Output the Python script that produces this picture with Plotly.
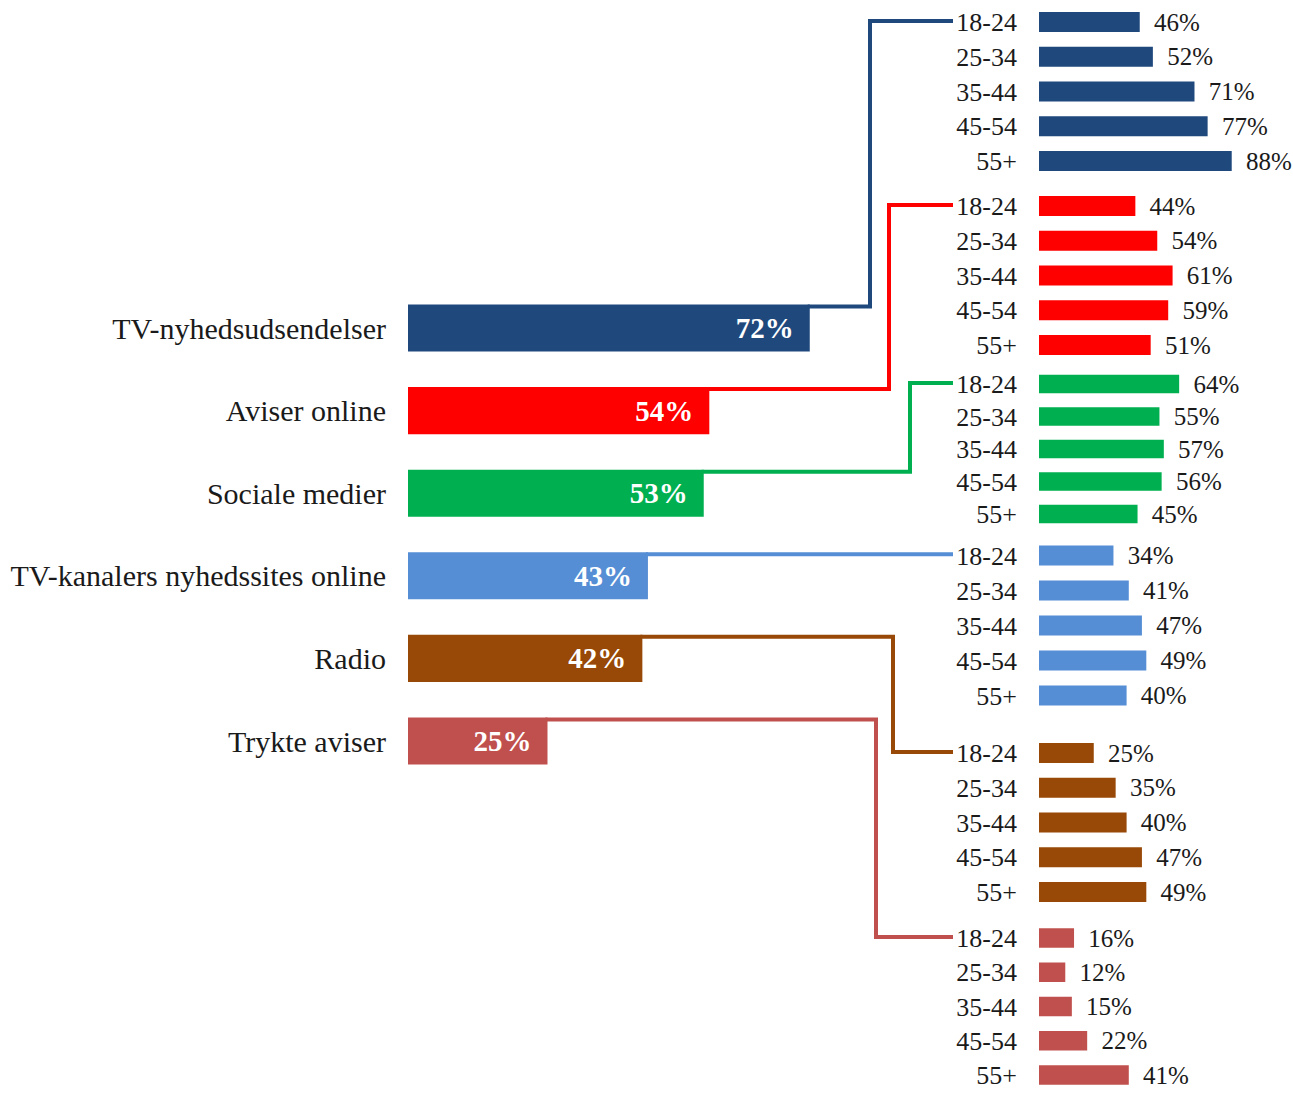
import plotly.graph_objects as go

# ---- data -------------------------------------------------------------
MEDIA = [
    "TV-nyhedsudsendelser",
    "Aviser online",
    "Sociale medier",
    "TV-kanalers nyhedssites online",
    "Radio",
    "Trykte aviser",
]
TOTAL = [72, 54, 53, 43, 42, 25]

AGE_GROUPS = ["18-24", "25-34", "35-44", "45-54", "55+"]
TV_BY_AGE = [46, 52, 71, 77, 88]
AVISER_ONLINE_BY_AGE = [44, 54, 61, 59, 51]
SOCIALE_MEDIER_BY_AGE = [64, 55, 57, 56, 45]
TV_SITES_BY_AGE = [34, 41, 47, 49, 40]
RADIO_BY_AGE = [25, 35, 40, 47, 49]
TRYKTE_AVISER_BY_AGE = [16, 12, 15, 22, 41]
BY_AGE = [TV_BY_AGE, AVISER_ONLINE_BY_AGE, SOCIALE_MEDIER_BY_AGE,
          TV_SITES_BY_AGE, RADIO_BY_AGE, TRYKTE_AVISER_BY_AGE]

COLORS = ["#1F497D", "#FF0000", "#00B050", "#558ED5", "#984807", "#C0504D"]

# ---- layout geometry (pixels in a 1293 x 1093 canvas) -----------------
W, H = 1293, 1093
BARGAP = 0.43
FONT = "Liberation Serif"

MAIN_X_PX = (408, 966)          # x-range 0..100 %
MAIN_Y_PX = (286.7, 782.3)      # six category slots
AGE_X_PX = (1039, 1258)         # x-range 0..100 %
GROUP_FIRST_ROW_PX = [22, 206, 384, 555.5, 753, 938]
GROUP_PITCH_PX = [34.75, 34.75, 32.5, 35.0, 34.75, 34.25]
CONNECTOR_X_PX = [870, 889, 910, None, 893, 876]   # None: straight connector
CONNECTOR_END_PX = 953


def px_x(x):
    return x / W


def px_y(y):
    return 1 - y / H


fig = go.Figure()

# main bars (total share per medium)
fig.add_trace(go.Bar(
    orientation="h", y=MEDIA, x=TOTAL,
    marker=dict(color=COLORS, line=dict(width=0)),
    texttemplate="<b>%{x}%</b>\u00a0\u2009",
    textposition="inside", insidetextanchor="end",
    textfont=dict(family=FONT, size=29, color="white"),
    constraintext="none",
    xaxis="x", yaxis="y", hoverinfo="skip",
))

layout = dict(
    width=W, height=H,
    margin=dict(l=0, r=0, t=0, b=0),
    paper_bgcolor="white", plot_bgcolor="white",
    showlegend=False, bargap=BARGAP,
    font=dict(family=FONT, color="#1a1a1a"),
    xaxis=dict(domain=[px_x(MAIN_X_PX[0]), px_x(MAIN_X_PX[1])], range=[0, 100],
               visible=False, fixedrange=True),
    yaxis=dict(domain=[px_y(MAIN_Y_PX[1]), px_y(MAIN_Y_PX[0])], anchor="x",
               autorange="reversed", showgrid=False, zeroline=False, showline=False,
               ticks="", ticklabelstandoff=21,
               tickfont=dict(family=FONT, size=30, color="#1a1a1a")),
    xaxis2=dict(domain=[px_x(AGE_X_PX[0]), px_x(AGE_X_PX[1])], range=[0, 100],
                visible=False, fixedrange=True, anchor="y2"),
)

# age breakdown panels, one small axis per medium
for i, values in enumerate(BY_AGE):
    ax = i + 2
    top = GROUP_FIRST_ROW_PX[i] - GROUP_PITCH_PX[i] / 2
    bottom = top + GROUP_PITCH_PX[i] * len(AGE_GROUPS)
    layout[f"yaxis{ax}"] = dict(
        domain=[max(0, px_y(bottom)), px_y(top)], anchor="x2",
        autorange="reversed", showgrid=False, zeroline=False, showline=False,
        ticks="", ticklabelstandoff=21,
        tickfont=dict(family=FONT, size=26, color="#1a1a1a"),
    )
    fig.add_trace(go.Bar(
        orientation="h", y=AGE_GROUPS, x=values,
        marker=dict(color=COLORS[i], line=dict(width=0)),
        texttemplate="\u00a0\u2009%{x}%", textposition="outside",
        textfont=dict(family=FONT, size=25, color="#1a1a1a"),
        constraintext="none", cliponaxis=False,
        xaxis="x2", yaxis=f"y{ax}", hoverinfo="skip",
    ))

    # elbow connector from the top edge of the main bar to the 18-24 label
    step = (MAIN_Y_PX[1] - MAIN_Y_PX[0]) / len(MEDIA)
    bar_top = MAIN_Y_PX[0] + (i + 0.5) * step - (1 - BARGAP) * step / 2 + 2
    bar_end = MAIN_X_PX[0] + TOTAL[i] / 100 * (MAIN_X_PX[1] - MAIN_X_PX[0]) - 2
    cx = CONNECTOR_X_PX[i]
    if cx is None:
        path = (f"M {px_x(bar_end)} {px_y(bar_top)} "
                f"L {px_x(CONNECTOR_END_PX)} {px_y(bar_top)}")
    else:
        label_y = GROUP_FIRST_ROW_PX[i] - 1
        path = (f"M {px_x(bar_end)} {px_y(bar_top)} L {px_x(cx)} {px_y(bar_top)} "
                f"L {px_x(cx)} {px_y(label_y)} "
                f"L {px_x(CONNECTOR_END_PX)} {px_y(label_y)}")
    fig.add_shape(type="path", path=path, xref="paper", yref="paper",
                  line=dict(color=COLORS[i], width=4), layer="above")

fig.update_layout(**layout)
fig.write_html("out.html")
